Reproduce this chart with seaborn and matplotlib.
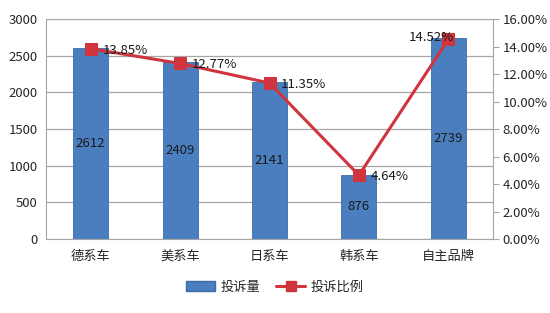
import matplotlib
matplotlib.use("Agg")
import matplotlib.pyplot as plt
import seaborn as sns
import pandas as pd
import numpy as np
from matplotlib.lines import Line2D
from matplotlib.patches import Patch
from matplotlib.ticker import FuncFormatter, MultipleLocator

categories = ["德系车", "美系车", "日系车", "韩系车", "自主品牌"]
complaints = [2612, 2409, 2141, 876, 2739]
ratios = [13.85, 12.77, 11.35, 4.64, 14.52]
ratio_labels = ["13.85%", "12.77%", "11.35%", "4.64%", "14.52%"]

sns.set_style("white")
plt.rcParams['font.family'] = ['Noto Sans CJK SC', 'DejaVu Sans']

df = pd.DataFrame({"cat": categories, "count": complaints, "ratio": ratios})

fig = plt.figure(figsize=(5.5, 3.13), dpi=100)
ax = fig.add_axes([0.0836, 0.2364, 0.8128, 0.7026])

bar_color = "#4A7EBF"
line_color = "#D0343D"

sns.barplot(data=df, x="cat", y="count", ax=ax, color=bar_color, width=0.39,
            edgecolor="#3D6CA8", linewidth=0.6, saturation=1)
ax.set_ylim(0, 3000)
ax.set_xlim(-0.5, 4.5)
ax.yaxis.set_major_locator(MultipleLocator(500))
ax.grid(axis="y", color="#A6A6A6", linewidth=0.9)
ax.set_axisbelow(True)
ax.set_xlabel("")
ax.set_ylabel("")
for s in ["left", "right", "top", "bottom"]:
    ax.spines[s].set_visible(True)
    ax.spines[s].set_color("#A6A6A6")
ax.tick_params(axis="y", length=0, labelsize=9.5, pad=6)
ax.tick_params(axis="x", length=0, labelsize=9.5, pad=8)
ax.set_xticks(np.arange(-0.5, 5, 1), minor=True)
ax.tick_params(axis="x", which="minor", length=4, color="#A6A6A6", direction="out")

for i, v in enumerate(complaints):
    ax.text(i, v / 2, str(v), ha="center", va="center", fontsize=9.5, color="#1a1a1a")

ax2 = ax.twinx()
sns.lineplot(x=np.arange(len(categories)), y=ratios, ax=ax2, color=line_color,
             linewidth=2.2, marker="s", markersize=8, markeredgecolor=line_color)
ax2.set_ylim(0, 16)
ax2.yaxis.set_major_locator(MultipleLocator(2))
ax2.yaxis.set_major_formatter(FuncFormatter(lambda v, p: f"{v:.2f}%"))
ax2.tick_params(axis="y", length=4, color="#A6A6A6", labelsize=9.5, direction="out", pad=3)
for s in ax2.spines.values():
    s.set_visible(False)
ax2.grid(False)

offsets = [(0.13, -0.1, "left"), (0.13, -0.1, "left"), (0.13, -0.1, "left"),
           (0.13, -0.1, "left"), (0.06, 0.15, "right")]
for i, (r, lab) in enumerate(zip(ratios, ratio_labels)):
    dx, dy, ha = offsets[i]
    ax2.text(i + dx, r + dy, lab, ha=ha, va="center", fontsize=9.5, color="#1a1a1a")

handles = [Patch(facecolor=bar_color, edgecolor="#3D6CA8", label="投诉量"),
           Line2D([0], [0], color=line_color, marker="s", markersize=7, linewidth=2.2, label="投诉比例")]
fig.legend(handles=handles, loc="center", bbox_to_anchor=(0.5, 0.083), ncol=2, frameon=False,
           fontsize=9.5, handlelength=2.2, columnspacing=1.2, handletextpad=0.4)

fig.savefig("out.png", dpi=100)
